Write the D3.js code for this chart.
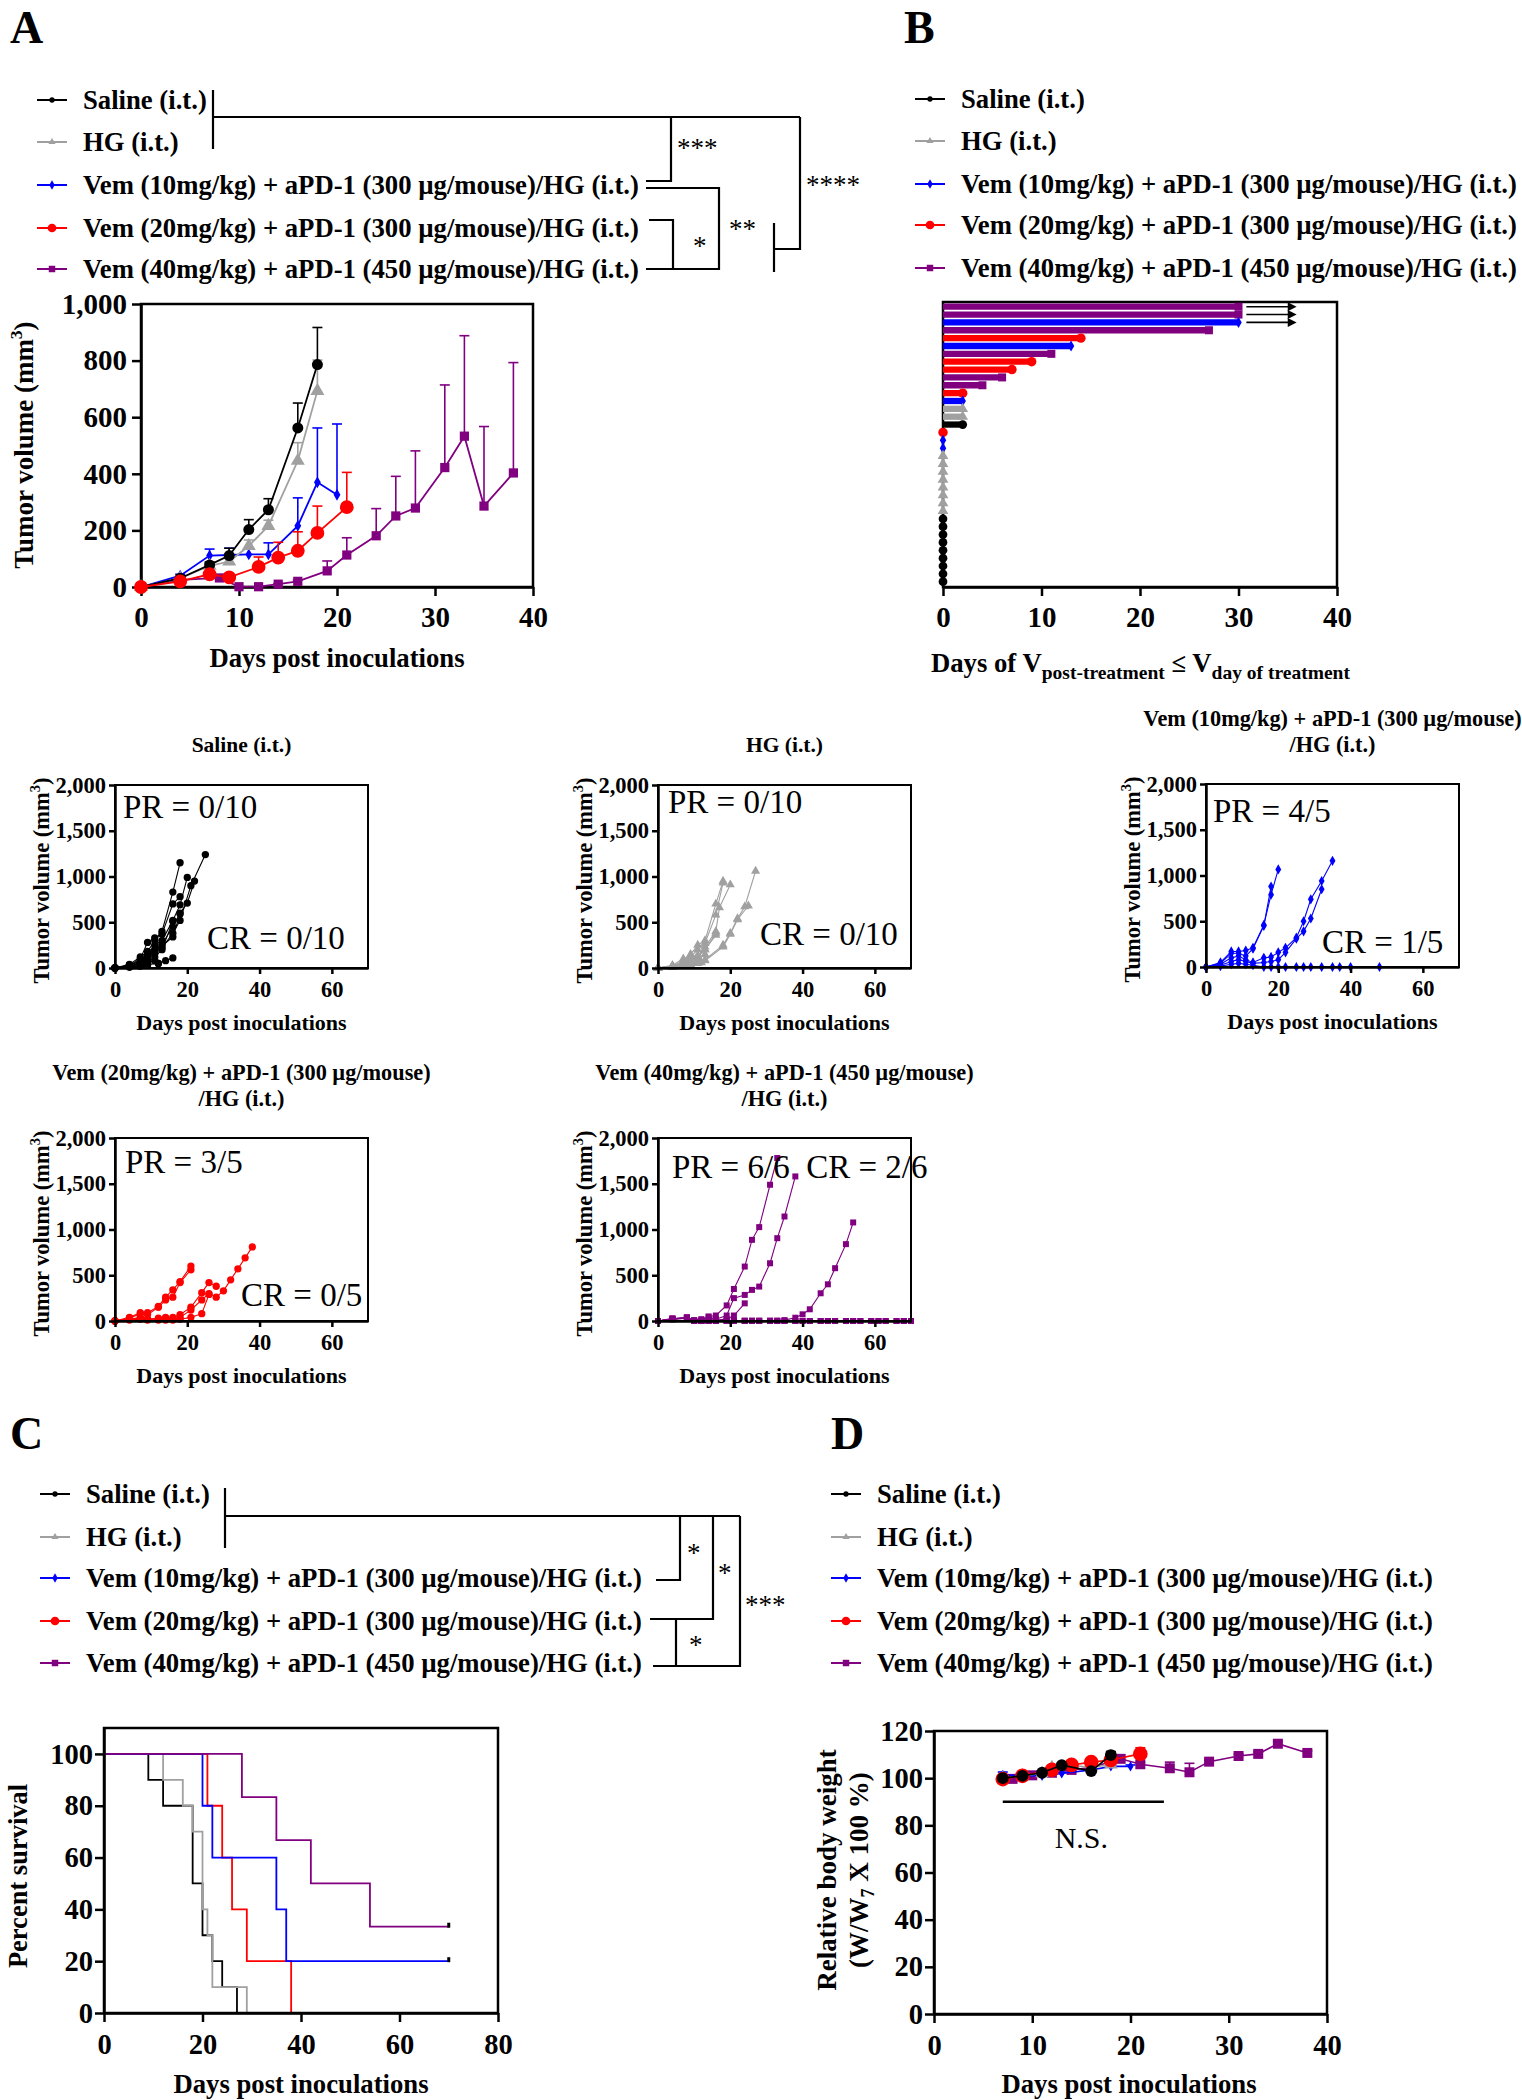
<!DOCTYPE html>
<html><head><meta charset="utf-8">
<script src="https://cdn.jsdelivr.net/npm/d3@7"></script>
<style>body{margin:0;background:#fff}svg{display:block}</style>
</head><body>
<svg id="fig" width="1522" height="2100"></svg>
<script>
// ---------------- DATA ----------------
const groups = ["Saline (i.t.)", "HG (i.t.)",
  "Vem (10mg/kg) + aPD-1 (300 µg/mouse)/HG (i.t.)",
  "Vem (20mg/kg) + aPD-1 (300 µg/mouse)/HG (i.t.)",
  "Vem (40mg/kg) + aPD-1 (450 µg/mouse)/HG (i.t.)"];
const groupColors = ["#000000", "#a0a0a0", "#0000ff", "#ff0000", "#800080"];
const groupShapes = ["circle", "triangle", "diamond", "circle", "square"];

// Panel A: mean tumour volume and upper SEM
const aDays = [
  [0,4,7,9,11,13,16,18],
  [0,4,7,9,11,13,16,18],
  [0,4,7,9,11,13,16,18,20],
  [0,4,7,9,12,14,16,18,21],
  [0,4,8,10,12,14,16,19,21,24,26,28,31,33,35,38]
];
const aMean = [
  [0,31,78,111,203,273,562,786],
  [0,30,75,90,145,216,446,693],
  [0,40,111,113,115,115,216,370,326],
  [0,20,45,34,71,104,128,191,282],
  [0,25,32,1,1,10,20,57,113,181,251,279,422,533,286,403]
];
const aErr = [
  [0,5,10,26,35,39,88,131],
  [0,4,8,10,21,20,64,109],
  [0,5,23,24,0,41,99,192,250],
  [0,3,8,5,35,54,67,95,123],
  [0,4,5,0,0,2,5,35,61,96,140,202,292,355,281,390]
];
const aXTicks = [0,10,20,30,40];
const aYTicks = [0,200,400,600,800,1000];

// Panel B: days with V(post) <= V(treatment day), one row per mouse
const bGroup = [4,4,2,4,3,2,4,3,3,4,4,3,2,1,1,0,3,2,2,1,1,1,1,1,1,1,1,0,0,0,0,0,0,0,0,0];
const bDays  = [30,30,30,27,14,13,11,9,7,6,4,2,2,2,2,2,0,0,0,0,0,0,0,0,0,0,0,0,0,0,0,0,0,0,0,0];
const bOngoing = [1,1,1,0,0,0,0,0,0,0,0,0,0,0,0,0,0,0,0,0,0,0,0,0,0,0,0,0,0,0,0,0,0,0,0,0];
const bXTicks = [0,10,20,30,40];

// Individual tumour growth curves
const salineDays = [
  [0,4,7,9,11,13,16,18],[0,4,7,9,11,13,16,18],[0,4,7,9,11,13,16,18,20],
  [0,4,7,9,11,13,16,18,20,22],[0,4,7,9,11,13,16,18,21,25],[0,4,7,9,11,13,16,18],
  [0,4,7,9,11,13,16],[0,4,7,9,12,14,16],[0,4,7,9],[0,4,7,9,11,12]];
const salineVol = [
  [0,40,120,180,300,400,830,1150],[0,30,100,280,330,370,700,780],[0,30,80,150,250,300,520,690,990],
  [0,20,60,120,200,260,450,600,710,950],[0,20,50,100,160,220,380,520,900,1240],[0,30,70,120,180,240,340,590],
  [0,20,40,60,120,200,510],[0,10,30,40,50,80,110],[0,10,20,30],[0,20,50,60,80,50]];
const hgDays = [
  [0,4,7,9,11,13,16,18],[0,4,7,9,11,13,16,18],[0,4,7,9,11,13,16,17,20],[0,4,7,9,11,13,16],
  [0,4,7,9,11,13,18,20,22,24,27],[0,4,7,9,11,13,18,20,22,25],[0,4,7,9,11],[0,4,7,9,11,13],
  [0,4,7,9,11,13,16],[0,4,7,9,12]];
const hgVol = [
  [0,20,80,150,250,300,700,950],[0,20,60,120,200,270,580,930],[0,30,100,130,130,230,400,660,910],[0,20,50,70,120,200,380],
  [0,10,30,40,60,90,250,380,540,670,1060],[0,10,20,30,50,80,230,370,530,680],[0,20,40,60,80],[0,10,30,50,100,150],
  [0,20,60,90,140,200,360],[0,10,20,30,60]];
const vem10Days = [
  [0,4,7,9,11,13,16,18,20],[0,4,7,9,11,13,16,18],
  [0,4,7,9,11,13,16,18,20,22,25,27,29,32,35],[0,4,7,9,11,13,16,18,20,22,25,27,29,32],
  [0,4,7,9,11,13,16,18,20,22,25,27,29,32,35,37,40,48]];
const vem10Vol = [
  [0,50,170,170,180,210,460,790,1066],[0,40,150,150,120,200,450,880],
  [0,30,100,120,80,50,100,110,160,210,320,500,740,940,1160],[0,20,60,80,60,40,50,60,80,160,310,390,530,850],
  [0,10,30,40,30,20,0,0,0,0,0,0,0,0,0,0,0,0]];
const vem20Days = [
  [0,4,7,9,12,14,16,18,21],[0,4,7,9,12,14,16,18,21],[0,4,7,9,12,14,16,18,21,24,26,28],
  [0,4,7,9,12,14,16,18,21,24,26,28,30,32,34,36,38],[0,4,7,9,12,14,16,18,21,24,26]];
const vem20Vol = [
  [0,40,90,90,160,260,340,430,600],[0,30,80,70,150,230,260,420,560],[0,20,40,20,30,40,40,70,150,310,420,380],
  [0,20,30,20,20,30,20,40,120,230,300,260,330,450,570,690,810],[0,10,20,10,10,10,10,20,40,80,290]];
const vem40Days = [
  [0,4,8,10,12,14,16,19,21,24,26,28,31,33],
  [0,4,8,10,12,14,16,19,21,24,26,28,31,33,35,38],
  [0,4,8,10,12,14,16,19,21,24],
  [0,4,8,10,12,14,16,19,21,24,26,28,31,33,35,38,40,42,45,47,49,52,54],
  [0,4,8,10,12,14,16,19,21,24,26,28,31,33,35,38,40,42,45,47,49,52,54,56,59,61,63,66,68,70],
  [0,4,8,10,12,14,16,19,21,24,26,28,31,33,35,38,40,42,45,47,49,52,54,56,59,61,63,66,68,70]];
const vem40Vol = [
  [0,20,40,10,20,50,60,170,350,595,887,1026,1489,1781],
  [0,30,30,5,10,40,20,60,250,285,340,376,631,905,1142,1580],
  [0,20,30,0,0,10,10,20,60,193],
  [0,20,40,0,0,5,5,5,5,5,5,5,5,5,10,36,73,128,303,401,577,840,1077],
  [0,25,35,0,0,0,0,0,0,0,0,0,0,0,0,0,0,0,0,0,0,0,0,0,0,0,0,0,0,0],
  [0,20,30,0,0,0,0,0,0,0,0,0,0,0,0,0,0,0,0,0,0,0,0,0,0,0,0,0,0,0]];
const indivXTicks = [0,20,40,60];
const indivYTicks = [0,500,1000,1500,2000];
const responseLabels = [["PR = 0/10","CR = 0/10"],["PR = 0/10","CR = 0/10"],["PR = 4/5","CR = 1/5"],["PR = 3/5","CR = 0/5"],["PR = 6/6\u00a0\u00a0CR = 2/6",""]];

// Panel C: Kaplan-Meier survival
const survTimes = [[0,9,12,18,20,22,24,27],[0,12,16,18,20,21,22,29],[0,20,22,35,37,70],[0,21,24,26,29,38],[0,28,35,42,54,70]];
const survPct = [[100,90,80,50,30,20,10,0],[100,90,80,70,40,30,10,0],[100,80,60,40,20,20],[100,80,60,40,20,0],[100,83.3,66.7,50,33.3,33.3]];
const cXTicks = [0,20,40,60,80];
const cYTicks = [0,20,40,60,80,100];

// Panel D: relative body weight
const dDays = [[7,9,11,13,16,18],[7,9,11,12,14,16,18],[7,9,11,13,16,18,20],[7,9,12,14,16,18,21],[8,10,12,14,16,19,21,24,26,28,31,33,35,38]];
const dMean = [[100,101,102.3,105.5,103,109.8],[100,101,102,104.5,105.5,104.5,105.8],[101.4,101,101,102,103.5,105,105],
  [99.6,101,103.5,105.6,106.8,107.7,110.3],[99.7,101.2,102.3,103.5,104.5,108.2,105.9,104.2,102.5,107,109.4,110.3,114.6,110.7]];
const dErr = [[0.3,0.4,0.6,0.8,0.8,1.5],[0.3,0.4,0.5,0.9,0.8,0.8,1.2],[1.2,0.5,0.6,0.5,0.6,0.8,0.6],
  [0.4,0.6,0.8,0.8,1.0,1.2,2.6],[0.3,0.4,0.5,0.5,0.6,0.7,0.8,2.6,3.8,0.7,0.8,0.8,0.9,0.9]];
const dXTicks = [0,10,20,30,40];
const dYTicks = [0,20,40,60,80,100,120];

// ---------------- DRAWING ----------------
const FONT = "'Liberation Serif','Times New Roman',serif";
const svg = d3.select("#fig").attr("font-family", FONT);
const symTypes = {circle: d3.symbolCircle, triangle: d3.symbolTriangle, diamond: d3.symbolDiamond, square: d3.symbolSquare};
const symPath = (shape, size) => d3.symbol().type(symTypes[shape]).size(size)();
const fmt = d3.format(",");

function label(txt, x, y) {
  svg.append("text").attr("x", x).attr("y", y).attr("font-size", 46).attr("font-weight", "bold").text(txt);
}
function styleAxis(g, fs) {
  g.attr("font-family", FONT).attr("font-size", fs).attr("font-weight", "bold");
  g.selectAll("path.domain").attr("stroke-width", 2.5).attr("stroke", "#000");
  g.selectAll(".tick line").attr("stroke-width", 2.5).attr("stroke", "#000");
  g.selectAll(".tick text").attr("fill", "#000");
}
function frame(g, x, y, opt) {
  const [x0, x1] = x.range(), [y0, y1] = y.range();
  g.append("rect").attr("x", x0).attr("y", y1).attr("width", x1 - x0).attr("height", y0 - y1)
    .attr("fill", "none").attr("stroke", "#000").attr("stroke-width", opt.sw || 2.5);
  const gx = g.append("g").attr("transform", `translate(0,${y0})`)
    .call(d3.axisBottom(x).tickValues(opt.xt).tickFormat(opt.xf || fmt).tickSize(opt.ts).tickPadding(opt.xpad).tickSizeOuter(0));
  styleAxis(gx, opt.fs);
  if (opt.yt) {
    const gy = g.append("g").attr("transform", `translate(${x0},0)`)
      .call(d3.axisLeft(y).tickValues(opt.yt).tickFormat(fmt).tickSize(opt.ts).tickPadding(opt.ypad).tickSizeOuter(0));
    styleAxis(gy, opt.fs);
  }
}
function xTitle(g, txt, x, y, fs) {
  g.append("text").attr("x", x).attr("y", y).attr("text-anchor", "middle").attr("font-size", fs).attr("font-weight", "bold").text(txt);
}
function tumorTitle(g, x, y, fs) {
  const t = g.append("text").attr("transform", `translate(${x},${y}) rotate(-90)`).attr("text-anchor", "middle")
    .attr("font-size", fs).attr("font-weight", "bold");
  t.append("tspan").text("Tumor volume (mm");
  t.append("tspan").attr("font-size", fs * 0.65).attr("dy", -fs * 0.42).text("3");
  t.append("tspan").attr("dy", fs * 0.42).text(")");
}
function legend(x0, rows, fs) {
  const g = svg.append("g");
  const lsz = [22, 22, 26, 60, 42];
  groups.forEach((name, i) => {
    const y = rows[i];
    g.append("line").attr("x1", x0).attr("x2", x0 + 30).attr("y1", y).attr("y2", y)
      .attr("stroke", groupColors[i]).attr("stroke-width", 2);
    g.append("path").attr("d", symPath(groupShapes[i], lsz[i])).attr("transform", `translate(${x0 + 15},${y})`)
      .attr("fill", groupColors[i]);
    g.append("text").attr("x", x0 + 46).attr("y", y + 9).attr("font-size", fs).attr("font-weight", "bold").text(name);
  });
  return g;
}
function path(g, pts, sw) {
  g.append("path").attr("d", "M" + pts.map(p => p.join(",")).join("L")).attr("fill", "none")
    .attr("stroke", "#000").attr("stroke-width", sw || 2.2);
}
function star(g, txt, x, y) {
  g.append("text").attr("x", x).attr("y", y + 10).attr("font-size", 27).text(txt);
}

// ===== Panel A =====
label("A", 10, 43);
{
  const lg = legend(37, [100, 142, 185, 228, 269], 26.7);
  path(lg, [[213, 90], [213, 149]]);
  path(lg, [[213, 117], [800, 117]]);
  path(lg, [[646, 181], [671, 181], [671, 117]]);
  star(lg, "***", 677, 147);
  path(lg, [[646, 188], [719, 188], [719, 269], [646, 269]]);
  star(lg, "**", 729, 228);
  path(lg, [[649, 220], [673, 220], [673, 269]]);
  star(lg, "*", 693, 245);
  path(lg, [[800, 117], [800, 249], [774, 249]]);
  path(lg, [[774, 223], [774, 272]]);
  star(lg, "****", 806, 184);

  const g = svg.append("g");
  const x = d3.scaleLinear().domain([0, 40]).range([141, 533]);
  const y = d3.scaleLinear().domain([0, 1000]).range([587, 304]);
  frame(g, x, y, {xt: aXTicks, yt: aYTicks, ts: 9, xpad: 10, ypad: 5, fs: 29});
  xTitle(g, "Days post inoculations", 337, 667, 26.7);
  tumorTitle(g, 33, 445, 27);
  const sizes = [95, 85, 40, 150, 85];
  [4, 2, 1, 0, 3].forEach(i => {
    const pts = aDays[i].map((d, k) => ({d, m: aMean[i][k], e: aErr[i][k]}));
    const c = groupColors[i];
    pts.filter(p => p.e > 0).forEach(p => {
      g.append("line").attr("x1", x(p.d)).attr("x2", x(p.d)).attr("y1", y(p.m)).attr("y2", y(p.m + p.e)).attr("stroke", c).attr("stroke-width", 1.6);
      g.append("line").attr("x1", x(p.d) - 5).attr("x2", x(p.d) + 5).attr("y1", y(p.m + p.e)).attr("y2", y(p.m + p.e)).attr("stroke", c).attr("stroke-width", 1.6);
    });
    g.append("path").datum(pts).attr("d", d3.line().x(p => x(p.d)).y(p => y(p.m))).attr("fill", "none").attr("stroke", c).attr("stroke-width", 1.8);
    g.selectAll(null).data(pts).join("path").attr("d", symPath(groupShapes[i], sizes[i]))
      .attr("transform", p => `translate(${x(p.d)},${y(p.m)})`).attr("fill", c);
  });
}

// ===== Panel B =====
label("B", 904, 43);
{
  legend(915, [99, 141, 184, 225, 268], 26.7);
  const g = svg.append("g");
  const x = d3.scaleLinear().domain([0, 40]).range([943, 1337]);
  const yb = d3.scalePoint().domain(d3.range(bDays.length)).range([306.7, 581.7]);
  const yFrame = d3.scaleLinear().domain([0, 1]).range([587, 302]);
  frame(g, x, yFrame, {xt: bXTicks, ts: 9, xpad: 10, fs: 29});
  const sizes = [60, 50, 36, 70, 64];
  bDays.forEach((d, i) => {
    const c = groupColors[bGroup[i]], yy = yb(i);
    if (d > 0) g.append("line").attr("x1", x(0)).attr("x2", x(d)).attr("y1", yy).attr("y2", yy).attr("stroke", c).attr("stroke-width", 6.3);
    g.append("path").attr("d", symPath(groupShapes[bGroup[i]], sizes[bGroup[i]])).attr("transform", `translate(${x(d)},${yy})`).attr("fill", c);
    if (bOngoing[i]) {
      g.append("line").attr("x1", x(30.8)).attr("x2", x(35.2)).attr("y1", yy).attr("y2", yy).attr("stroke", "#000").attr("stroke-width", 1.6);
      g.append("path").attr("d", `M${x(35)},${yy - 4.5}L${x(35.9)},${yy}L${x(35)},${yy + 4.5}Z`).attr("fill", "#000");
    }
  });
  const t = g.append("text").attr("x", 931).attr("y", 672).attr("font-size", 26.7).attr("font-weight", "bold");
  t.append("tspan").text("Days of V");
  t.append("tspan").attr("font-size", 19.5).attr("dy", 7).text("post-treatment");
  t.append("tspan").attr("dy", -7).text(" \u2264 V");
  t.append("tspan").attr("font-size", 19.5).attr("dy", 7).text("day of treatment");
}

// ===== Individual panels =====
{
  const indivDays = [salineDays, hgDays, vem10Days, vem20Days, vem40Days];
  const indivVol = [salineVol, hgVol, vem10Vol, vem20Vol, vem40Vol];
  const boxes = [[115, 785], [658, 785], [1206, 784], [115, 1138], [658, 1138]];
  const titles = [["Saline (i.t.)"], ["HG (i.t.)"], ["Vem (10mg/kg) + aPD-1 (300 µg/mouse)", "/HG (i.t.)"],
    ["Vem (20mg/kg) + aPD-1 (300 µg/mouse)", "/HG (i.t.)"], ["Vem (40mg/kg) + aPD-1 (450 µg/mouse)", "/HG (i.t.)"]];
  const prPos = [[8, 33], [10, 28], [7, 38], [10, 35], [14, 40]];
  const crPos = [[92, -19], [102, -23], [116, -14], [126, -15], [0, 0]];
  const sizes = [42, 36, 30, 42, 36];
  boxes.forEach(([L, T], i) => {
    const W = 253, H = 183;
    const g = svg.append("g");
    const x = d3.scaleLinear().domain([0, 70]).range([L, L + W]);
    const y = d3.scaleLinear().domain([0, 2000]).range([T + H, T]);
    const c = groupColors[i];
    indivDays[i].forEach((ds, m) => {
      const pts = ds.map((d, k) => [d, indivVol[i][m][k]]);
      g.append("path").datum(pts).attr("d", d3.line().x(p => x(p[0])).y(p => y(p[1]))).attr("fill", "none").attr("stroke", c).attr("stroke-width", 1.1);
      g.selectAll(null).data(pts).join("path").attr("d", symPath(groupShapes[i], sizes[i]))
        .attr("transform", p => `translate(${x(p[0])},${y(p[1])})`).attr("fill", c);
    });
    frame(g, x, y, {xt: indivXTicks, yt: indivYTicks, ts: 6, xpad: 7, ypad: 3, fs: 22.5, sw: 2});
    xTitle(g, "Days post inoculations", L + W / 2, T + H + 62, 22);
    tumorTitle(g, L - 66, T + H / 2 + 4, 22.5);
    const tl = titles[i];
    tl.forEach((s, k) => {
      const yy = tl.length === 1 ? T - 33 : T - 58 + k * 26;
      g.append("text").attr("x", L + W / 2).attr("y", yy).attr("text-anchor", "middle")
        .attr("font-size", tl.length === 1 ? 21.5 : 22.3).attr("font-weight", "bold").text(s);
    });
    g.append("text").attr("x", L + prPos[i][0]).attr("y", T + prPos[i][1]).attr("font-size", 33).text(responseLabels[i][0]);
    if (responseLabels[i][1]) g.append("text").attr("x", L + crPos[i][0]).attr("y", T + H + crPos[i][1]).attr("font-size", 33).text(responseLabels[i][1]);
  });
}

// ===== Panel C =====
label("C", 10, 1449);
{
  const lg = legend(40, [1494, 1537, 1578, 1621, 1663], 26.7);
  path(lg, [[225, 1488], [225, 1548]]);
  path(lg, [[225, 1516], [740, 1516]]);
  path(lg, [[656, 1580], [680, 1580], [680, 1516]]);
  star(lg, "*", 687, 1552);
  path(lg, [[650, 1619], [713, 1619], [713, 1516]]);
  star(lg, "*", 718, 1572);
  path(lg, [[653, 1666], [740, 1666], [740, 1516]]);
  star(lg, "***", 745, 1604);
  path(lg, [[676, 1619], [676, 1666]]);
  star(lg, "*", 689, 1644);

  const g = svg.append("g");
  const x = d3.scaleLinear().domain([0, 80]).range([104, 498]);
  const y = d3.scaleLinear().domain([0, 110]).range([2013, 1728]);
  [0, 1, 3, 2, 4].forEach(i => {
    const pts = survTimes[i].map((t, k) => [t, survPct[i][k]]);
    g.append("path").datum(pts).attr("d", d3.line().curve(d3.curveStepAfter).x(p => x(p[0])).y(p => y(p[1])))
      .attr("fill", "none").attr("stroke", groupColors[i]).attr("stroke-width", 1.8);
    if (survPct[i][survPct[i].length - 1] > 0) {
      const last = pts[pts.length - 1];
      g.append("rect").attr("x", x(last[0]) - 1.5).attr("y", y(last[1]) - 4).attr("width", 3).attr("height", 5).attr("fill", "#000");
    }
  });
  frame(g, x, y, {xt: cXTicks, yt: cYTicks, ts: 9, xpad: 12, ypad: 2, fs: 28.5});
  xTitle(g, "Days post inoculations", 301, 2093, 26.7);
  g.append("text").attr("transform", "translate(27,1876) rotate(-90)").attr("text-anchor", "middle")
    .attr("font-size", 26.5).attr("font-weight", "bold").text("Percent survival");
}

// ===== Panel D =====
label("D", 831, 1449);
{
  legend(831, [1494, 1537, 1578, 1621, 1663], 26.7);
  const g = svg.append("g");
  const x = d3.scaleLinear().domain([0, 40]).range([934, 1327]);
  const y = d3.scaleLinear().domain([0, 120]).range([2014, 1731]);
  frame(g, x, y, {xt: dXTicks, yt: dYTicks, ts: 9, xpad: 12, ypad: 2, fs: 28.5});
  const sizes = [110, 80, 30, 170, 100];
  [4, 2, 1, 3, 0].forEach(i => {
    const c = groupColors[i];
    const pts = dDays[i].map((d, k) => ({d, m: dMean[i][k], e: dErr[i][k]}));
    pts.forEach(p => {
      g.append("line").attr("x1", x(p.d)).attr("x2", x(p.d)).attr("y1", y(p.m)).attr("y2", y(p.m + p.e)).attr("stroke", c).attr("stroke-width", 1.6);
      g.append("line").attr("x1", x(p.d) - 5).attr("x2", x(p.d) + 5).attr("y1", y(p.m + p.e)).attr("y2", y(p.m + p.e)).attr("stroke", c).attr("stroke-width", 1.6);
    });
    g.append("path").datum(pts).attr("d", d3.line().x(p => x(p.d)).y(p => y(p.m))).attr("fill", "none").attr("stroke", c).attr("stroke-width", 1.6);
    g.selectAll(null).data(pts).join("path").attr("d", symPath(groupShapes[i], sizes[i]))
      .attr("transform", p => `translate(${x(p.d)},${y(p.m)})`).attr("fill", c);
  });
  g.append("line").attr("x1", x(7)).attr("x2", x(23.4)).attr("y1", y(90)).attr("y2", y(90)).attr("stroke", "#000").attr("stroke-width", 2.5);
  g.append("text").attr("x", x(15)).attr("y", y(75) + 11).attr("text-anchor", "middle").attr("font-size", 30).text("N.S.");
  xTitle(g, "Days post inoculations", 1129, 2093, 26.7);
  const t = g.append("text").attr("transform", "translate(836,1870) rotate(-90)").attr("text-anchor", "middle")
    .attr("font-size", 27).attr("font-weight", "bold");
  t.append("tspan").attr("x", 0).attr("y", 0).text("Relative body weight");
  const t2 = g.append("text").attr("transform", "translate(868,1870) rotate(-90)").attr("text-anchor", "middle")
    .attr("font-size", 27).attr("font-weight", "bold");
  t2.append("tspan").text("(W/W");
  t2.append("tspan").attr("font-size", 18).attr("dy", 6).text("7");
  t2.append("tspan").attr("dy", -6).text(" X 100 %)");
}
</script>
</body></html>
